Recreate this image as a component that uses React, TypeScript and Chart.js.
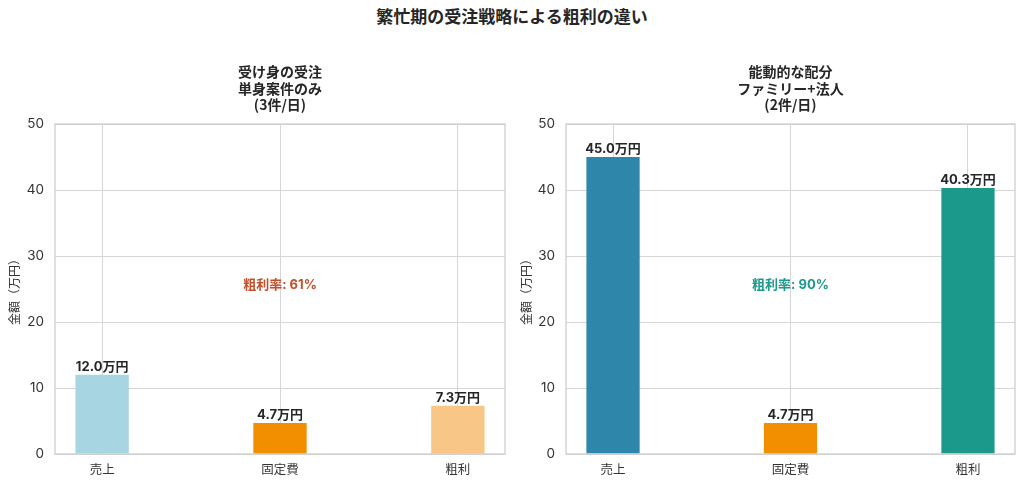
import { useEffect, useRef } from "react";
import { Chart, registerables } from "chart.js";

Chart.register(...registerables);

// Categories and values (万円)
const categories = ["売上", "固定費", "粗利"];
const passiveValues = [12.0, 4.7, 7.3];
const activeValues = [45.0, 4.7, 40.3];
const passiveColors = ["#A8D5E2", "#F18F01", "#F8C788"];
const activeColors = ["#2E86AB", "#F18F01", "#1B998B"];
const passiveTitle = ["受け身の受注", "単身案件のみ", "(3件/日)"];
const activeTitle = ["能動的な配分", "ファミリー+法人", "(2件/日)"];
const passiveRate = "粗利率: 61%";
const activeRate = "粗利率: 90%";
const rateColors = ["#C4502A", "#1B998B"];
const yTickValues = [0, 10, 20, 30, 40, 50];
const yMax = 50;
const mainTitle = "繁忙期の受注戦略による粗利の違い";
const yAxisTitle = "金額（万円）";

const FONT = "'Noto Sans CJK JP', 'Noto Sans', sans-serif";
const NUM_FONT = "Inter, 'Noto Sans CJK JP', sans-serif";
const GRID = "#d6d6d6";

type PanelProps = {
  values: number[];
  colors: string[];
  title: string[];
  rate: string;
  rateColor: string;
  left: number;
  axisWidth: number;
  padRight: number;
};

function Panel({ values, colors, title, rate, rateColor, left, axisWidth, padRight }: PanelProps) {
  const ref = useRef<HTMLCanvasElement | null>(null);

  useEffect(() => {
    if (!ref.current) return;

    const overlay = {
      id: "overlay",
      afterDatasetsDraw(chart: any) {
        const { ctx, chartArea } = chart;
        const yScale = chart.scales.y;
        ctx.save();
        // frame around the plot area
        ctx.strokeStyle = "#cccccc";
        ctx.lineWidth = 1.25;
        ctx.strokeRect(chartArea.left, chartArea.top, chartArea.right - chartArea.left, chartArea.bottom - chartArea.top);

        // value labels above bars
        const meta = chart.getDatasetMeta(0);
        ctx.fillStyle = "#262626";
        ctx.font = `bold 13px ${NUM_FONT}`;
        ctx.textAlign = "center";
        ctx.textBaseline = "bottom";
        meta.data.forEach((bar: any, i: number) => {
          ctx.fillText(`${values[i].toFixed(1)}万円`, bar.x, bar.y - 1);
        });

        // margin annotation
        const cx = (chartArea.left + chartArea.right) / 2;
        ctx.fillStyle = rateColor;
        ctx.textBaseline = "middle";
        ctx.fillText(rate, cx, yScale.getPixelForValue(25) - 4);

        // panel title
        ctx.fillStyle = "#262626";
        ctx.font = `bold 14px ${FONT}`;
        title.forEach((line, i) => {
          ctx.fillText(line, cx, chartArea.top - 52 + i * 16.5);
        });
        ctx.restore();
      },
    };

    const chart = new Chart(ref.current, {
      type: "bar",
      data: {
        datasets: [
          {
            data: values.map((v, i) => ({ x: i, y: v })),
            backgroundColor: colors,
            borderWidth: 0,
            barPercentage: 0.3,
            categoryPercentage: 1,
          },
        ],
      },
      options: {
        responsive: false,
        animation: false,
        layout: { padding: { left: 0, right: padRight, top: 124, bottom: 0 } },
        plugins: {
          legend: { display: false },
          tooltip: { enabled: false },
          title: { display: false },
        },
        scales: {
          x: {
            type: "linear",
            offset: false,
            min: -0.265,
            max: 2.265,
            afterFit: (s: any) => {
              s.height = 33;
            },
            afterBuildTicks: (s: any) => {
              s.ticks = categories.map((_, i) => ({ value: i }));
            },
            ticks: {
              callback: (v: any) => categories[v as number] ?? "",
              font: { family: FONT, size: 12.5 },
              color: "#333333",
              padding: 8,
            },
            grid: { color: GRID, lineWidth: 1, drawTicks: false, offset: false },
            border: { display: false },
          },
          y: {
            min: 0,
            max: yMax,
            afterFit: (s: any) => {
              s.width = axisWidth;
            },
            afterBuildTicks: (s: any) => {
              s.ticks = yTickValues.map((v) => ({ value: v }));
            },
            ticks: {
              font: { family: NUM_FONT, size: 13.5 },
              color: "#333333",
              padding: 11,
            },
            grid: { color: GRID, lineWidth: 1, drawTicks: false },
            border: { display: false },
            title: {
              display: true,
              text: yAxisTitle,
              font: { family: FONT, size: 12 },
              color: "#333333",
              padding: { top: 7, bottom: 0 },
            },
          },
        },
      },
      plugins: [overlay],
    });

    return () => chart.destroy();
  }, [values, colors, title, rate, rateColor, axisWidth, padRight]);

  return (
    <canvas
      ref={ref}
      width={512}
      height={487}
      style={{ position: "absolute", left, top: 0, width: 512, height: 487 }}
    />
  );
}

export default function App() {
  return (
    <div
      style={{
        position: "fixed",
        left: 0,
        top: 0,
        width: 1024,
        height: 487,
        background: "#ffffff",
        overflow: "hidden",
      }}
    >
      <div
        style={{
          position: "absolute",
          left: 0,
          top: 5,
          width: 1024,
          textAlign: "center",
          fontFamily: FONT,
          fontWeight: "bold",
          fontSize: 17,
          lineHeight: "22px",
          color: "#262626",
        }}
      >
        {mainTitle}
      </div>
      <Panel
        values={passiveValues}
        colors={passiveColors}
        title={passiveTitle}
        rate={passiveRate}
        rateColor={rateColors[0]}
        left={0}
        axisWidth={55}
        padRight={7}
      />
      <Panel
        values={activeValues}
        colors={activeColors}
        title={activeTitle}
        rate={activeRate}
        rateColor={rateColors[1]}
        left={512}
        axisWidth={54}
        padRight={9}
      />
    </div>
  );
}
